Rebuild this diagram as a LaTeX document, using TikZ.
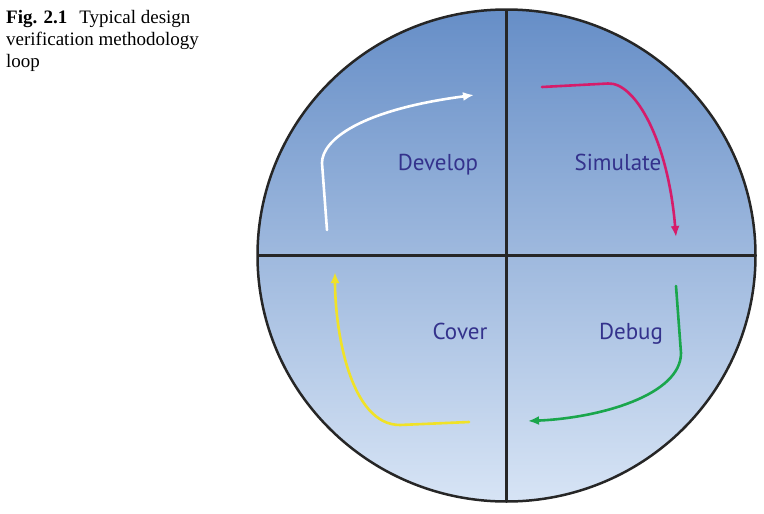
\documentclass[tikz,border=0pt]{standalone}
\usepackage{fontspec}
\setmainfont{Liberation Serif}
\newfontfamily\phasefont{PT Sans}
\usepackage{tikz}
\usetikzlibrary{arrows.meta}
\definecolor{discTop}{RGB}{102,142,199}
\definecolor{discBottom}{RGB}{215,228,245}
\definecolor{phaseText}{RGB}{52,50,140}
\definecolor{simPink}{RGB}{214,28,106}
\definecolor{dbgGreen}{RGB}{26,166,76}
\definecolor{covYellow}{RGB}{240,226,40}

\begin{document}
\begin{tikzpicture}[x=1pt, y=-1pt,
  phase/.style={text=phaseText, inner sep=0, anchor=base, font=\phasefont\fontsize{23}{27}\selectfont},
  cycle/.style={line width=2.6pt, line cap=round, -{Latex[length=11pt,width=9pt]}},
  divider/.style={line width=2.5pt, black!85}]

\useasboundingbox (0,0) rectangle (764,514);

% caption
\node at (6,10) [anchor=north west, inner sep=0, align=left, font=\fontsize{19}{22}\selectfont] (caption) {\textbf{Fig. 2.1}\hspace{12pt}Typical design\\verification methodology\\loop};

% disc
\coordinate (ctr) at (506.5,255.5);
\shade[top color=discTop, bottom color=discBottom] (ctr) ellipse [x radius=249pt, y radius=246pt];
\draw[divider] (ctr) ellipse [x radius=249pt, y radius=246pt];
\draw[divider] (506.5,9.5) -- (506.5,501.5);
\draw[divider] (257.5,255.5) -- (755.5,255.5);

% phases
\node at (438,170) [phase] (develop) {Develop};
\node at (618,170) [phase] (simulate) {Simulate};
\node at (631,339) [phase] (debug) {Debug};
\node at (460,339) [phase] (cover) {Cover};

% loop arrows
\coordinate (devStart) at (327,230);
\coordinate (devEnd) at (474,95);
\coordinate (simStart) at (542,87);
\coordinate (simEnd) at (676,237);
\coordinate (dbgStart) at (676,286);
\coordinate (dbgEnd) at (528,421);
\coordinate (covStart) at (469,422);
\coordinate (covEnd) at (335,272);

\draw[cycle, white] (devStart) -- (322,163) .. controls (322,140) and (360,110) .. (devEnd);
\draw[cycle, simPink] (simStart) -- (608,83.5) .. controls (635,82) and (668,140) .. (simEnd);
\draw[cycle, dbgGreen] (dbgStart) -- (681,353) .. controls (681,395) and (600,418) .. (dbgEnd);
\draw[cycle, covYellow] (covStart) -- (400,425) .. controls (350,425) and (335,330) .. (covEnd);

\end{tikzpicture}
\end{document}
